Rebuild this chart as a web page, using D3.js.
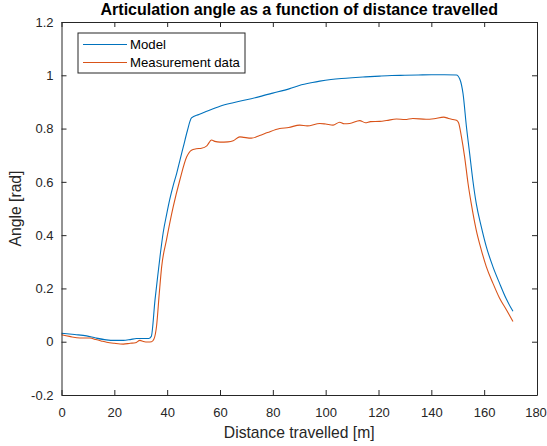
<!DOCTYPE html>
<html>
<head>
<meta charset="utf-8">
<script src="https://cdn.jsdelivr.net/npm/d3@7"></script>
<style>
  body { margin: 0; background: #fff; }
  svg { display: block; font-family: "Liberation Sans", Arial, sans-serif; }
</style>
</head>
<body>
<svg id="chart" width="547" height="446"></svg>
<script>
// distance [m] and angle [rad]
const modelDist = [0, 5, 9.5, 13, 17, 20, 23.4, 26, 28.4, 31, 33, 34, 35.4, 36.4, 37.3, 38.5, 39.8, 41, 42.3, 43.6, 44.8, 46.1, 47.6, 49.2,
  52, 55, 60, 65, 70, 75, 80, 86.4, 90, 95, 97.8, 102, 106, 110, 115, 120.5, 125, 130, 135, 140, 145, 149.5,
  150.8, 152, 153.3, 154.5, 155.7, 157, 158.9, 160.8, 163.3, 165.8, 168.4, 170.9];
const modelAngle = [0.032, 0.027, 0.022, 0.014, 0.007, 0.005, 0.005, 0.008, 0.012, 0.012, 0.012, 0.02, 0.157, 0.245, 0.32, 0.41, 0.478, 0.535, 0.587, 0.632, 0.68, 0.731, 0.79, 0.84,
  0.853, 0.865, 0.884, 0.897, 0.908, 0.92, 0.933, 0.95, 0.962, 0.973, 0.978, 0.984, 0.988, 0.991, 0.994, 0.997, 0.999, 1.0, 1.001, 1.002, 1.002, 1.001,
  0.985, 0.931, 0.806, 0.707, 0.607, 0.519, 0.432, 0.357, 0.282, 0.22, 0.16, 0.114];

const measDist = [0, 3, 7, 10.8, 13, 15, 17.1, 20, 23.4, 26, 28, 29.7, 31, 32.8, 34.1, 35, 36, 37, 37.9, 39.8, 42.3, 44.8, 47.4, 49.2,
  51, 53, 55, 56.8, 58, 60, 63, 65, 67.5, 69, 71.9, 75, 78, 82.6, 86, 90.2, 93, 97.8, 100, 102.8, 105.3, 107, 109.1, 112.9, 115, 117, 120.5,
  123, 126.8, 130, 133, 138, 141, 144.7, 146.5, 148.2, 149.5, 150.3,
  151.4, 152.6, 153.9, 155.1, 157, 158.9, 160.8, 163.3, 165.8, 168.4, 170.9];
const measAngle = [0.026, 0.02, 0.014, 0.014, 0.008, 0.003, -0.002, -0.006, -0.009, -0.006, -0.004, 0.005, 0.001, -0.001, 0.0, 0.01, 0.06, 0.18, 0.28, 0.385, 0.507, 0.607, 0.694, 0.719,
  0.724, 0.726, 0.735, 0.757, 0.752, 0.749, 0.75, 0.754, 0.769, 0.767, 0.764, 0.774, 0.785, 0.8, 0.804, 0.813, 0.81, 0.819, 0.817, 0.813, 0.824, 0.818, 0.819, 0.83, 0.822, 0.826, 0.827,
  0.83, 0.836, 0.834, 0.838, 0.835, 0.837, 0.843, 0.838, 0.834, 0.831, 0.822,
  0.769, 0.694, 0.594, 0.519, 0.419, 0.345, 0.282, 0.22, 0.164, 0.12, 0.076];

const xTicks = [0, 20, 40, 60, 80, 100, 120, 140, 160, 180];
const yTicks = [-0.2, 0, 0.2, 0.4, 0.6, 0.8, 1, 1.2];
const seriesNames = ["Model", "Measurement data"];
const seriesColors = ["#0072BD", "#D95319"];

const svg = d3.select("#chart");
const margin = { left: 61.5, right: 10, top: 22, bottom: 51 };
const width = 547 - margin.left - margin.right;
const height = 446 - margin.top - margin.bottom;
const axisColor = "#262626";

const x = d3.scaleLinear().domain([0, 180]).range([0, width]);
const y = d3.scaleLinear().domain([-0.2, 1.2]).range([height, 0]);

const g = svg.append("g").attr("transform", `translate(${margin.left},${margin.top})`);

const lineGen = d3.line()
  .x(d => x(d[0]))
  .y(d => y(d[1]))
  .curve(d3.curveMonotoneX);
const series = [
  d3.zip(modelDist, modelAngle),
  d3.zip(measDist, measAngle),
];

g.selectAll(".series")
  .data(series)
  .join("path")
  .attr("class", "series")
  .attr("fill", "none")
  .attr("stroke", (d, i) => seriesColors[i])
  .attr("stroke-width", 1.1)
  .attr("d", lineGen);

// axes, MATLAB style: inward ticks on all four sides
const fmt = d => String(+d.toFixed(1));
const styleAxis = sel => {
  sel.select(".domain").attr("stroke", axisColor);
  sel.selectAll(".tick line").attr("stroke", axisColor);
  sel.selectAll(".tick text").attr("fill", axisColor).style("font-size", "13px");
};

g.append("g")
  .attr("transform", `translate(0,${height})`)
  .call(d3.axisBottom(x).tickValues(xTicks).tickSizeInner(-5).tickSizeOuter(0).tickPadding(13))
  .call(styleAxis)
  .call(a => a.selectAll("text").attr("dy", "0.71em"))
  // keep the last label inside the window
  .call(a => a.selectAll(".tick:last-of-type text").attr("dx", -1.5));

g.append("g")
  .call(d3.axisTop(x).tickValues(xTicks).tickSizeInner(-5).tickSizeOuter(0).tickFormat(""))
  .call(styleAxis);

g.append("g")
  .call(d3.axisLeft(y).tickValues(yTicks).tickSizeInner(-5).tickSizeOuter(0).tickPadding(8).tickFormat(fmt))
  .call(styleAxis);

g.append("g")
  .attr("transform", `translate(${width},0)`)
  .call(d3.axisRight(y).tickValues(yTicks).tickSizeInner(-5).tickSizeOuter(0).tickFormat(""))
  .call(styleAxis);

// titles
svg.append("text")
  .attr("x", margin.left + width / 2)
  .attr("y", 15)
  .attr("text-anchor", "middle")
  .attr("font-weight", "bold")
  .attr("font-size", 16)
  .attr("fill", "#000")
  .text("Articulation angle as a function of distance travelled");

svg.append("text")
  .attr("x", margin.left + width / 2)
  .attr("y", 437.5)
  .attr("text-anchor", "middle")
  .attr("font-size", 15.7)
  .attr("fill", axisColor)
  .text("Distance travelled [m]");

svg.append("text")
  .attr("transform", `translate(21,${margin.top + height / 2}) rotate(-90)`)
  .attr("text-anchor", "middle")
  .attr("font-size", 15.7)
  .attr("fill", axisColor)
  .text("Angle [rad]");

// legend
const legend = svg.append("g").attr("transform", "translate(78,33)");
legend.append("rect")
  .attr("width", 167)
  .attr("height", 40)
  .attr("fill", "#fff")
  .attr("stroke", axisColor)
  .attr("stroke-width", 1);

const rows = legend.selectAll(".row")
  .data(seriesNames)
  .join("g")
  .attr("class", "row")
  .attr("transform", (d, i) => `translate(0,${11.5 + i * 18})`);

rows.append("line")
  .attr("x1", 5).attr("x2", 49)
  .attr("stroke", (d, i) => seriesColors[i])
  .attr("stroke-width", 1.1);

rows.append("text")
  .attr("x", 52)
  .attr("dy", "0.35em")
  .attr("font-size", 13.2)
  .attr("fill", "#000")
  .text(d => d);
</script>
</body>
</html>
